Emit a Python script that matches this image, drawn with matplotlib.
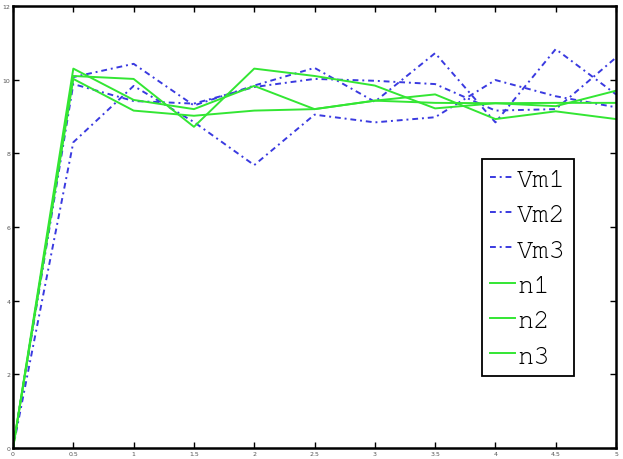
import matplotlib
matplotlib.use('Agg')
import matplotlib.pyplot as plt
import numpy as np

# sample times
t = [0, 0.5, 1, 1.5, 2, 2.5, 3, 3.5, 4, 4.5, 5]

# membrane potentials (blue, dash-dot)
vm1 = [0, 8.3, 9.83, 8.85, 7.68, 9.05, 8.84, 8.98, 9.99, 9.55, 9.25]
vm2 = [0, 10.07, 10.43, 9.3, 9.84, 10.32, 9.4, 10.72, 8.84, 10.83, 9.6]
vm3 = [0, 9.88, 9.42, 9.35, 9.8, 10.02, 9.97, 9.88, 9.16, 9.2, 10.6]

# n values (green, solid)
n1 = [0, 10.1, 10.02, 8.72, 10.3, 10.1, 9.84, 9.22, 9.36, 9.28, 9.7]
n2 = [0, 10.3, 9.45, 9.2, 9.83, 9.2, 9.43, 9.6, 8.93, 9.14, 8.93]
n3 = [0, 10.02, 9.16, 9.02, 9.16, 9.2, 9.43, 9.37, 9.36, 9.37, 9.37]

labels = ['Vm1', 'Vm2', 'Vm3', 'n1', 'n2', 'n3']


def main():
    fig = plt.figure(figsize=(6.23, 4.6), dpi=100)
    ax = fig.add_axes([0.0209, 0.0239, 0.9679, 0.9609])

    blue = '#3a3ae0'
    green = '#33e633'
    for ys, lab in zip([vm1, vm2, vm3], labels[:3]):
        ax.plot(t, ys, color=blue, linestyle=(0, (3, 2, 1, 2)), lw=1.4, label=lab)
    for ys, lab in zip([n1, n2, n3], labels[3:]):
        ax.plot(t, ys, color=green, linestyle='-', lw=1.4, label=lab)

    ax.set_xlim(0, 5)
    ax.set_ylim(0, 12)
    ax.set_xticks(np.arange(0, 5.01, 0.5))
    ax.set_xticklabels(['0', '0.5', '1', '1.5', '2', '2.5', '3', '3.5', '4', '4.5', '5'])
    ax.set_yticks(range(0, 13, 2))
    ax.tick_params(direction='in', top=True, right=True, length=4, width=1,
                   labelsize=4.5, pad=2, colors='black', labelcolor='#555555')
    for s in ax.spines.values():
        s.set_linewidth(1.8)

    leg = ax.legend(loc='upper left', bbox_to_anchor=(0.7778, 0.654),
                    prop={'family': ['Courier New', 'Nimbus Mono PS', 'FreeMono',
                                     'Liberation Mono'], 'size': 19.5},
                    handlelength=0.9, handletextpad=0.1, labelspacing=0.42,
                    borderpad=0.3, borderaxespad=0, fancybox=False,
                    framealpha=1)
    leg.get_frame().set_edgecolor('black')
    leg.get_frame().set_linewidth(1.3)

    fig.savefig('out.png', dpi=100)


if __name__ == "__main__":
    main()
